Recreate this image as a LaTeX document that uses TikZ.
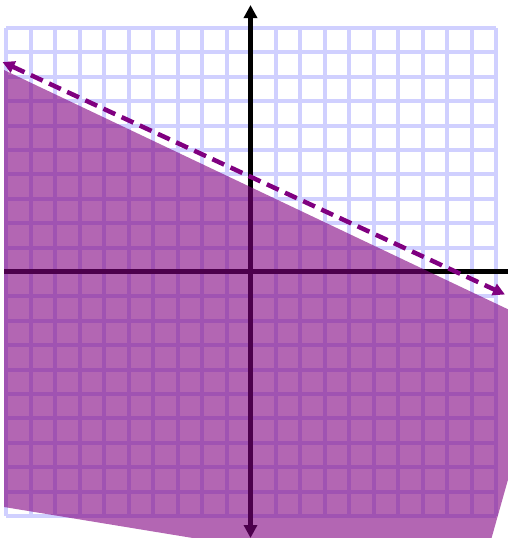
\documentclass[tikz,border=0pt]{standalone}
\usetikzlibrary{arrows.meta}
\definecolor{gridc}{RGB}{208,208,255}
\definecolor{plum}{RGB}{128,0,128}
\tikzset{
  gridline/.style={draw=gridc,line width=4pt},
  axisline/.style={draw=black,line width=5pt},
  bigtip/.tip={Triangle[length=13pt,width=13pt]},
  smalltip/.tip={Triangle[length=12pt,width=12pt]},
  boundary/.style={draw=plum,line width=4.5pt,dash pattern=on 13pt off 7pt,smalltip-smalltip},
  region/.style={fill=plum,fill opacity=0.6}
}
\begin{document}
\begin{tikzpicture}[x=1pt,y=-1pt]
\useasboundingbox (0,0) rectangle (508,538);
\begin{scope}
\clip (0,0) rectangle (508,538);
\foreach \i in {0,...,20} {
  \draw[gridline] (6+24.5*\i,28) -- (6+24.5*\i,516);
  \draw[gridline] (6,28+24.4*\i) -- (496,28+24.4*\i);
}
\coordinate (ytop) at (250.5,5);
\coordinate (ybot) at (250.5,538);
\coordinate (xl) at (4,271.5);
\coordinate (xr) at (512,271.5);
\draw[axisline,bigtip-bigtip] (ybot) -- (ytop);
\draw[axisline] (xl) -- (xr);
\fill[region] (4,70) -- (520,315) -- (520,437) -- (491,540) -- (205,540) -- (4,507) -- cycle;
\coordinate (bl) at (2.5,62);
\coordinate (br) at (505,294.5);
\draw[boundary] (bl) -- (br);
\end{scope}
\end{tikzpicture}
\end{document}
